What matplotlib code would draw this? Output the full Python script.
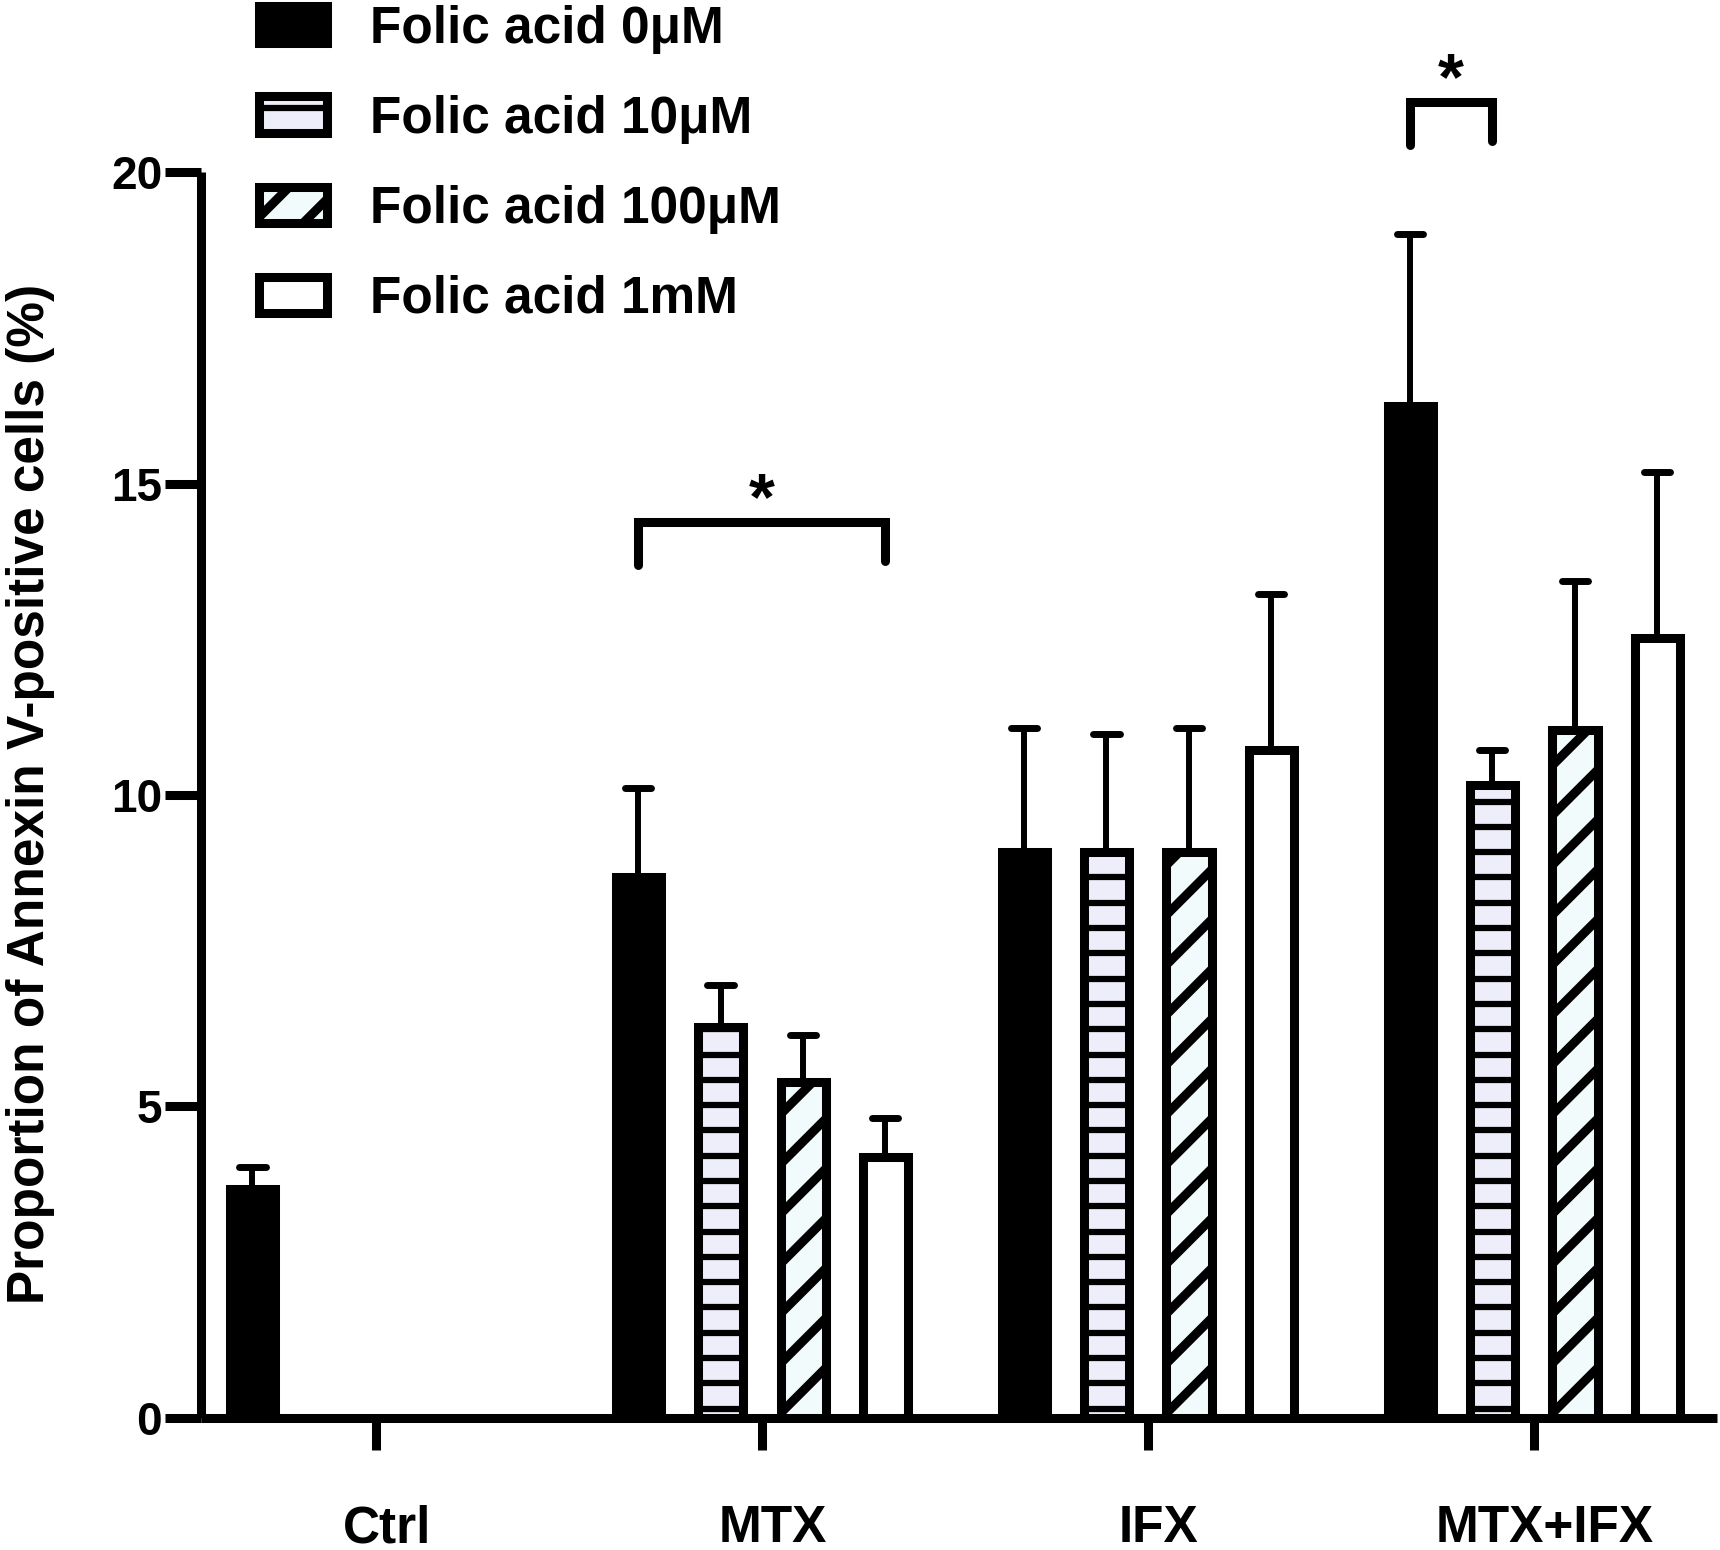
import numpy as np
import matplotlib
matplotlib.use('Agg')
import matplotlib.pyplot as plt
from matplotlib.patches import Rectangle
from matplotlib.lines import Line2D
from matplotlib.legend_handler import HandlerBase
from matplotlib.transforms import ScaledTranslation

# data (mean and upper error)
groups = ['Ctrl', 'MTX', 'IFX', 'MTX+IFX']
series = ['Folic acid 0μM', 'Folic acid 10μM', 'Folic acid 100μM', 'Folic acid 1mM']

fa0_mean = [3.68, 8.68, 9.08, 16.25]
fa0_err = [0.35, 1.44, 2.00, 2.75]
fa10_mean = [np.nan, 6.27, 9.08, 10.16]
fa10_err = [np.nan, 0.68, 1.90, 0.56]
fa100_mean = [np.nan, 5.39, 9.08, 11.04]
fa100_err = [np.nan, 0.75, 2.00, 2.39]
fa1m_mean = [np.nan, 4.19, 10.72, 12.52]
fa1m_err = [np.nan, 0.63, 2.50, 2.67]

# significance brackets: (group, first bar, second bar, height)
sig_group = [1, 3]
sig_bar_a = [0, 0]
sig_bar_b = [3, 1]
sig_height = [14.38, 21.12]

plt.rcParams['font.family'] = ['Liberation Sans', 'DejaVu Sans']
plt.rcParams['font.weight'] = 'bold'

LW = 6.5
fills = ['black', '#EEEDFA', '#F2FBFB', 'white']
kinds = [None, 'h', 'd', None]
offsets = [-0.32, -0.107, 0.107, 0.32]
bar_w = 0.117


def add_stripes(ax, rect, kind, slope):
    x0 = rect.get_x()
    w = rect.get_width()
    h = rect.get_height()
    if kind == 'h':
        for y in np.arange(0.15, h, 0.406):
            ln, = ax.plot([x0, x0 + w], [y, y], color='black', lw=4.5,
                          solid_capstyle='butt', zorder=3.5)
            ln.set_clip_path(rect)
    else:
        step = 0.80
        for c in np.arange(-slope * w - step, h + step, step):
            ln, = ax.plot([x0, x0 + w], [c, c + slope * w], color='black', lw=6.5,
                          solid_capstyle='butt', zorder=3.5)
            ln.set_clip_path(rect)


class StripeHandler(HandlerBase):
    def __init__(self, kind):
        super().__init__()
        self.kind = kind

    def create_artists(self, legend, orig_handle, xdescent, ydescent,
                       width, height, fontsize, trans):
        x0, y0 = -xdescent, -ydescent
        rect = Rectangle((x0, y0), width, height,
                         facecolor=orig_handle.get_facecolor(),
                         edgecolor='black', lw=LW, transform=trans)
        arts = [rect]
        lines = []
        if self.kind == 'h':
            yy = y0 + height * 0.68
            lines.append(Line2D([x0, x0 + width], [yy, yy], color='black', lw=4.5,
                                transform=trans))
        elif self.kind == 'd':
            for c in [height * 0.15, height * 0.15 - 36]:
                lines.append(Line2D([x0, x0 + width], [y0 + c, y0 + c + width],
                                    color='black', lw=6.5, transform=trans))
        for ln in lines:
            ln.set_clip_path(rect)
        return arts + lines


fig = plt.figure(figsize=(17.2, 15.5), dpi=100)
pos = [0.1169, 0.0852, 0.8811, 0.8038]
ax = fig.add_axes(pos)
xlim = (-0.453, 3.474)
ylim = (0, 20)
ax.set_xlim(xlim)
ax.set_ylim(ylim)

# slope in data units of a 45 degree line on screen
slope = (pos[2] * 1720 / (xlim[1] - xlim[0])) / (pos[3] * 1550 / (ylim[1] - ylim[0]))

means = [fa0_mean, fa10_mean, fa100_mean, fa1m_mean]
errs = [fa0_err, fa10_err, fa100_err, fa1m_err]
x = np.arange(len(groups))

for j in range(4):
    m = np.array(means[j], dtype=float)
    e = np.array(errs[j], dtype=float)
    ok = ~np.isnan(m)
    xs = x[ok] + offsets[j]
    bars = ax.bar(xs, m[ok], bar_w, color=fills[j], edgecolor='black',
                  linewidth=LW, zorder=3)
    ax.vlines(xs, m[ok], m[ok] + e[ok], color='black', lw=4.3, zorder=2)
    ax.hlines(m[ok] + e[ok], xs - 0.034, xs + 0.034, color='black', lw=5,
              capstyle='round', zorder=2)
    if kinds[j]:
        for rect in bars:
            add_stripes(ax, rect, kinds[j], slope)

# significance brackets
for g, a, b, h in zip(sig_group, sig_bar_a, sig_bar_b, sig_height):
    xa = g + offsets[a]
    xb = g + offsets[b]
    ax.plot([xa, xa, xb, xb], [h - 0.68, h, h, h - 0.62], color='black', lw=LW,
            solid_capstyle='round', solid_joinstyle='miter', clip_on=False, zorder=5)
    ax.text((xa + xb) / 2, h + 0.05, '*', ha='center', va='baseline',
            fontsize=48, fontweight='bold', clip_on=False)

# axes styling
for s in ['top', 'right']:
    ax.spines[s].set_visible(False)
for s in ['left', 'bottom']:
    ax.spines[s].set_linewidth(LW)
    ax.spines[s].set_capstyle('butt')
ax.spines['left'].set_bounds(0, 20)
ax.set_yticks([0, 5, 10, 15, 20])
ax.set_xticks(x)
ax.set_xticklabels(groups)
ax.tick_params(axis='y', length=26, width=LW, labelsize=33, pad=2)
ax.tick_params(axis='x', length=23, width=LW, labelsize=37, pad=39)
# category labels sit a little right of their ticks in the original
shift = ScaledTranslation(0.11, 0, fig.dpi_scale_trans)
for lab in ax.get_xticklabels():
    lab.set_transform(lab.get_transform() + shift)

ax.set_ylabel('Proportion of Annexin V-positive cells (%)', fontsize=37,
              fontweight='bold', va='center', ha='center')
ax.yaxis.set_label_coords(0.0175, 0.488, transform=fig.transFigure)

handles = [Rectangle((0, 0), 1, 1, facecolor=fills[j], edgecolor='black') for j in range(4)]
hmap = {handles[j]: StripeHandler(kinds[j]) for j in range(4)}
ax.legend(handles, series, handler_map=hmap, loc='upper left',
          bbox_to_anchor=(0.1503, 0.997), bbox_transform=fig.transFigure,
          frameon=False, fontsize=37, handlelength=1.34, handleheight=0.72,
          handletextpad=0.83, labelspacing=0.80, borderpad=0, borderaxespad=0)

fig.savefig('out.png', dpi=100)
